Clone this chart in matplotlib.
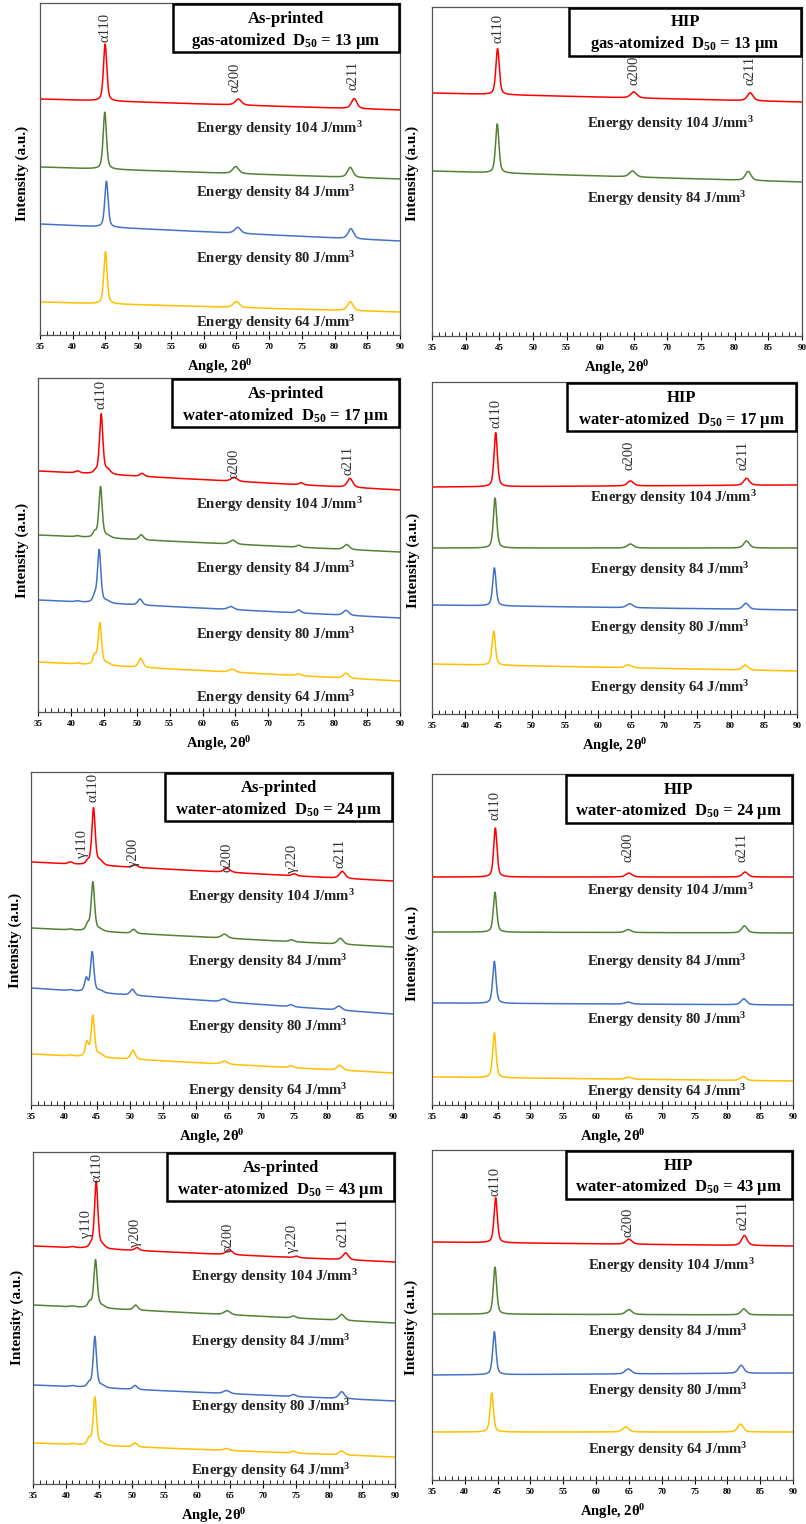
import numpy as np
import matplotlib
matplotlib.use("Agg")
import matplotlib.pyplot as plt
from matplotlib.patches import Rectangle

plt.rcParams["font.family"] = ["Liberation Serif", "DejaVu Serif"]
plt.rcParams["mathtext.fontset"] = "custom"
plt.rcParams["mathtext.rm"] = "Liberation Serif"
plt.rcParams["mathtext.bf"] = "Liberation Serif:bold"
plt.rcParams["mathtext.it"] = "Liberation Serif:italic"

# ---------------- data ----------------
COLORS = ["#ff0000", "#548235", "#4472c4", "#ffc000"]
ENERGY = ["104", "84", "80", "64"]
ANGLE_MIN, ANGLE_MAX = 35, 90

# peak kinds and their FWHM (deg)
KINDS_GAS = ["α110", "α200", "α211"]
KINDS_WATER = ["b41", "γ110", "α110", "sh", "γ200", "α200", "γ220", "α211"]
FWHM = {"b41": 0.8, "γ110": 0.6, "α110": 0.6, "sh": 1.0, "γ200": 0.8,
        "α200": 1.1, "γ220": 0.8, "α211": 1.0}

# Panel 1: As-printed, gas-atomized 13 um  (background at 35 and 90 deg, peak positions, heights)
P1_BASE = [(236, 225), (168, 156), (111, 94), (33, 23)]
P1_POS = [[44.95, 65.3, 83.0], [44.9, 64.9, 82.4], [45.15, 65.2, 82.5], [45.0, 65.0, 82.4]]
P1_HGT = [[57, 6, 10], [57, 7, 10], [46, 6, 10], [52, 6, 9]]

# Panel 2: HIP, gas-atomized 13 um
P2_BASE = [(243, 234), (165, 154)]
P2_POS = [[44.75, 65.0, 82.3], [44.7, 64.8, 82.0]]
P2_HGT = [[46, 6, 8], [49, 6, 9]]

# Panel 3: As-printed, water-atomized 17 um
P3_BASE = [(241, 222), (177, 160), (112, 94), (50, 31)]
P3_POS = [[41.0, 43.7, 44.6, 45.6, 50.8, 64.8, 75.0, 82.4],
          [41.0, 43.6, 44.5, 45.6, 50.7, 64.6, 74.6, 81.9],
          [41.0, 43.6, 44.3, 45.5, 50.5, 64.3, 74.6, 81.8],
          [41.0, 43.6, 44.4, 45.5, 50.6, 64.5, 74.6, 81.8]]
P3_HGT = [[2, 2, 60, 4, 3, 4, 2, 9],
          [1, 5, 51, 2, 5, 4, 2, 5],
          [1, 6, 53, 2, 6, 3, 3, 5],
          [1, 9, 42, 2, 9, 3, 2, 5]]

# Panel 4: HIP, water-atomized 17 um
P4_BASE = [(227, 229), (166, 166), (109, 104), (50, 43)]
P4_POS = [[44.6, 64.9, 82.4], [44.5, 64.9, 82.4], [44.4, 64.8, 82.3], [44.3, 64.6, 82.2]]
P4_HGT = [[54, 5, 7], [50, 4, 7], [38, 4, 6], [34, 3, 5]]

# Panel 5: As-printed, water-atomized 24 um
P5_BASE = [(243, 224), (177, 158), (117, 91), (51, 32)]
P5_POS = [[41.0, 43.6, 44.5, 45.5, 50.8, 64.8, 75.0, 82.3],
          [41.0, 43.6, 44.4, 45.5, 50.6, 64.4, 74.6, 82.0],
          [41.0, 43.4, 44.3, 45.5, 50.4, 64.3, 74.5, 81.8],
          [41.0, 43.5, 44.4, 45.5, 50.5, 64.4, 74.5, 81.9]]
P5_HGT = [[2, 3, 57, 4, 3, 4, 2, 7],
          [1, 6, 49, 2, 4, 4, 2, 6],
          [1, 13, 40, 2, 6, 3, 2, 4],
          [1, 14, 41, 3, 9, 3, 2, 5]]

# Panel 6: HIP, water-atomized 24 um
P6_BASE = [(228, 228), (173, 172), (102, 100), (28, 24)]
P6_POS = [[44.65, 65.0, 82.7], [44.6, 64.9, 82.6], [44.5, 64.9, 82.5], [44.5, 65.0, 82.4]]
P6_HGT = [[49, 4, 5], [40, 3, 7], [42, 2, 6], [45, 2, 4]]

# Panel 7: As-printed, water-atomized 43 um
P7_BASE = [(238, 222), (179, 161), (99, 83), (41, 27)]
P7_POS = [[41.0, 43.8, 44.6, 45.5, 50.8, 64.8, 75.0, 82.5],
          [41.0, 43.6, 44.5, 45.5, 50.6, 64.5, 74.6, 81.9],
          [41.0, 43.5, 44.4, 45.5, 50.5, 64.4, 74.6, 81.9],
          [41.0, 43.5, 44.4, 45.5, 50.5, 64.4, 74.6, 81.9]]
P7_HGT = [[1, 3, 67, 3, 3, 5, 1.5, 7],
          [1, 5, 48, 2, 5, 4, 2, 6],
          [1, 4, 51, 2, 4, 3, 2, 7],
          [1, 6, 48, 2, 4, 2, 2, 4]]

# Panel 8: HIP, water-atomized 43 um
P8_BASE = [(238, 234), (166, 165), (105, 107), (48, 48)]
P8_POS = [[44.7, 65.0, 82.6], [44.6, 65.0, 82.5], [44.5, 64.9, 82.1], [44.1, 64.5, 82.0]]
P8_HGT = [[45, 5, 10], [47, 5, 6], [43, 5, 8], [39, 5, 8]]

# ---------------- layout (reference pixel boxes: left, top, right, bottom) ----------------
W, H, DPI = 806, 1524, 100
PANELS = [
    dict(box=(40, 3, 400, 335), state="As-printed", powder="gas-atomized", d50="13",
         base=P1_BASE, pos=P1_POS, hgt=P1_HGT, kinds=KINDS_GAS,
         text_y=[206, 142, 76, 12], text_x=58.8,
         plabels=[("α110", 44.9, 293), ("α200", 64.8, 243), ("α211", 82.8, 245)],
         ylab=(22, 173)),
    dict(box=(432, 7, 802, 336), state="HIP", powder="gas-atomized", d50="13",
         base=P2_BASE, pos=P2_POS, hgt=P2_HGT, kinds=KINDS_GAS,
         text_y=[212, 137], text_x=58.0,
         plabels=[("α110", 44.8, 293), ("α200", 65.1, 251), ("α211", 82.3, 251)],
         ylab=(412, 173)),
    dict(box=(38, 378, 400, 712), state="As-printed", powder="water-atomized", d50="17",
         base=P3_BASE, pos=P3_POS, hgt=P3_HGT, kinds=KINDS_WATER,
         text_y=[207, 143, 77, 14], text_x=59.0,
         plabels=[("α110", 44.6, 303), ("α200", 64.8, 234), ("α211", 82.1, 237)],
         ylab=(22, 550)),
    dict(box=(432, 382, 797, 714), state="HIP", powder="water-atomized", d50="17",
         base=P4_BASE, pos=P4_POS, hgt=P4_HGT, kinds=KINDS_GAS,
         text_y=[216, 144, 86, 26], text_x=58.8,
         plabels=[("α110", 44.6, 286), ("α200", 64.7, 244), ("α211", 81.8, 244)],
         ylab=(413, 560)),
    dict(box=(31, 772, 393, 1105), state="As-printed", powder="water-atomized", d50="24",
         base=P5_BASE, pos=P5_POS, hgt=P5_HGT, kinds=KINDS_WATER,
         text_y=[208, 143, 78, 14], text_x=58.9,
         plabels=[("α110", 44.4, 303), ("γ110", 42.9, 247), ("γ200", 50.5, 238),
                  ("α200", 64.8, 233), ("γ220", 74.7, 232), ("α211", 82.0, 237)],
         ylab=(15, 940)),
    dict(box=(432, 774, 793, 1105), state="HIP", powder="water-atomized", d50="24",
         base=P6_BASE, pos=P6_POS, hgt=P6_HGT, kinds=KINDS_GAS,
         text_y=[214, 143, 85, 13], text_x=58.6,
         plabels=[("α110", 44.6, 285), ("α200", 64.9, 243), ("α211", 82.3, 243)],
         ylab=(412, 953)),
    dict(box=(33, 1152, 395, 1484), state="As-printed", powder="water-atomized", d50="43",
         base=P7_BASE, pos=P7_POS, hgt=P7_HGT, kinds=KINDS_WATER,
         text_y=[207, 142, 77, 13], text_x=59.0,
         plabels=[("α110", 44.7, 302), ("γ110", 43.1, 246), ("γ200", 50.5, 237),
                  ("α200", 64.6, 232), ("γ220", 74.5, 231), ("α211", 82.1, 237)],
         ylab=(17, 1317)),
    dict(box=(432, 1150, 793, 1480), state="HIP", powder="water-atomized", d50="43",
         base=P8_BASE, pos=P8_POS, hgt=P8_HGT, kinds=KINDS_GAS,
         text_y=[214, 148, 89, 30], text_x=58.8,
         plabels=[("α110", 44.6, 284), ("α200", 64.9, 243), ("α211", 82.4, 250)],
         ylab=(411, 1327)),
]

x = np.linspace(ANGLE_MIN, ANGLE_MAX, 2751)


def profile(base, pos, hgt, kinds):
    b0, b1 = base
    y = b0 + (b1 - b0) * (x - ANGLE_MIN) / (ANGLE_MAX - ANGLE_MIN)
    for p, h, k in zip(pos, hgt, kinds):
        w = FWHM[k]
        d2 = 4 * (x - p) ** 2 / w ** 2
        y = y + h * (0.5 / (1 + d2) + 0.5 * np.exp(-np.log(2) * d2))
    return y


fig = plt.figure(figsize=(W / DPI, H / DPI), dpi=DPI)

for P in PANELS:
    l, t, r, b = P["box"]
    ax = fig.add_axes([l / W, 1 - b / H, (r - l) / W, (b - t) / H])
    hpx = b - t
    for i, (base, pos, hgt) in enumerate(zip(P["base"], P["pos"], P["hgt"])):
        ax.plot(x, profile(base, pos, hgt, P["kinds"]), color=COLORS[i], lw=1.1)
        ax.text(P["text_x"], P["text_y"][i],
                "Energy density " + ENERGY[i] + r" J/mm$^{\mathbf{3}}$",
                fontsize=10.6, fontweight="bold", ha="left", va="center", color="#222222")
    for lab, px, py in P["plabels"]:
        ax.text(px, py, lab, rotation=90, ha="center", va="bottom", fontsize=10.5,
                color="#333333")
    ax.set_xlim(ANGLE_MIN, ANGLE_MAX)
    ax.set_ylim(0, hpx)
    ax.set_yticks([])
    ax.set_xticks(np.arange(35, 91, 5))
    ax.set_xticks(np.arange(35, 91, 1), minor=True)
    ax.tick_params(axis="x", which="major", direction="inout", length=6, width=0.8,
                   labelsize=6.5, pad=3)
    ax.tick_params(axis="x", which="minor", direction="in", length=3, width=0.6)
    for lb in ax.get_xticklabels():
        lb.set_fontweight("bold")
    for s in ax.spines.values():
        s.set_color("#555555")
        s.set_linewidth(0.9)
    ax.set_xlabel(r"Angle, 2θ$^{\mathbf{0}}$", fontsize=10.5, fontweight="bold", labelpad=4)
    # title box
    ax.add_patch(Rectangle((0.37, 0.852), 0.628, 0.145, transform=ax.transAxes,
                           fill=True, facecolor="white", edgecolor="black", lw=1.8,
                           zorder=5, clip_on=False))
    ax.text(0.684, 0.953, P["state"], transform=ax.transAxes, ha="center", va="center",
            fontsize=12, fontweight="bold", zorder=6)
    ax.text(0.684, 0.887, P["powder"] + r"  D$_{\mathbf{50}}$ = " + P["d50"] + " µm",
            transform=ax.transAxes, ha="center", va="center", fontsize=12,
            fontweight="bold", zorder=6)
    yl_x, yl_y = P["ylab"]
    fig.text(yl_x / W, 1 - yl_y / H, "Intensity (a.u.)", rotation=90, ha="center",
             va="center", fontsize=11, fontweight="bold")

fig.savefig("out.png", dpi=DPI)
